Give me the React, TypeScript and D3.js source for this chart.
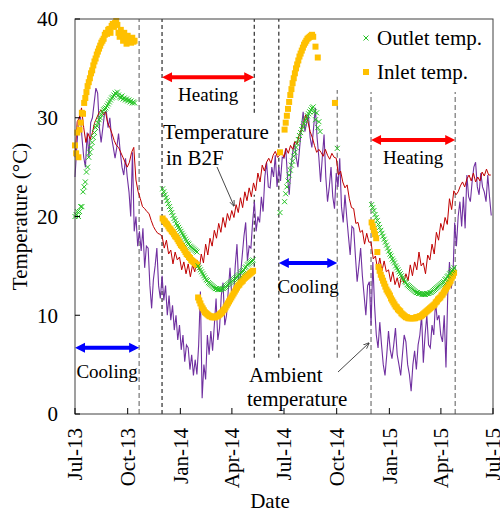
import React from "react";
import * as d3 from "d3";

// daily-ish readings
const ambientStart = new Date(Date.UTC(2013, 6, 1));
const ambientStepDays = 730 / 240;
const ambientTemp = [
  24, 27, 29.5, 30.5, 28, 26, 25, 28.5, 26, 29.5,
  30, 31.5, 33, 32.5, 29, 27.5, 29, 30.5, 30.6, 29,
  30, 28, 27, 25.9, 27, 28.4, 26.5, 25, 24.2, 25.9,
  24, 22.5, 20, 26.5, 18.5, 20, 17, 18.5, 16.5, 18.8,
  14.8, 17, 16.8, 13, 10.7, 13.6, 15, 16.8, 13, 11.7,
  14, 11.5, 13, 10, 12, 9.5, 11, 8.5, 10, 7.5,
  9, 6.5, 8, 5.3, 7, 6.7, 4.5, 6, 3.9, 5.5,
  4, 7, 12.4, 1.6, 5, 3.5, 8, 6, 8.4, 6.4,
  9, 11.7, 7.5, 8.7, 12, 13.3, 9, 10, 12.5, 14.8,
  12, 11.7, 15, 17.2, 13, 14, 16, 18, 19.4, 15.5,
  17, 16.8, 19.5, 21.5, 18.5, 20, 19.4, 22, 20.5, 24,
  25.5, 23, 22.9, 25, 24, 26.2, 23, 25, 23.6, 26,
  25.9, 26.9, 24, 22.2, 25, 26.5, 27.5, 26, 25, 27,
  29, 30.6, 28.6, 29.5, 30.3, 28, 27, 29, 31, 28,
  26, 23.5, 26, 28.3, 24, 21.5, 23, 25, 22, 20.8,
  24.4, 23, 25.9, 21, 19.4, 22.2, 20, 18, 16.1, 19,
  18.8, 16, 13.4, 15, 16.8, 14, 12, 10, 13, 13.4,
  9, 15.4, 11, 8, 6.7, 9.3, 7, 5, 3.9, 6,
  8.4, 6.5, 5.6, 7, 8.7, 6, 5, 3.9, 6, 8,
  7.3, 5, 4, 2.3, 5, 6.4, 4.5, 7, 8, 10,
  5.2, 8, 10, 7, 6.7, 9, 8, 11.4, 9.5, 10,
  8, 7.3, 10, 4.7, 12, 15.4, 12.7, 14, 19.4, 17,
  20, 21.5, 19, 22, 18.8, 24.2, 22, 21.5, 23.5, 25,
  25.5, 23, 22.2, 24.4, 23, 22.5, 21.5, 24.2, 22, 20.1,
];

const b2fStepDays = 730 / 192;
const b2fTemp = [
  26, 29.6, 30, 31, 29, 27.5, 28.4, 27.8,
  28.5, 29.5, 30, 30.5, 30.8, 30.3, 30.6, 29.5,
  29, 28.4, 27.7, 27.2, 27, 26.5, 26, 25.5,
  25, 25.5, 26.5, 27, 23.7, 22.5, 21.8, 21,
  20.8, 20.5, 20.3, 19.6, 19, 18.6, 18.3, 18.2,
  18, 16.8, 17.6, 16.2, 16.6, 15.2, 16.4, 15.6,
  15.9, 14.6, 15.4, 14.2, 15.2, 13.9, 15.1, 14.4,
  15.6, 14.6, 16.2, 15.3, 17.2, 16.1, 17.8, 17,
  18.6, 17.8, 19.3, 18.4, 19.9, 18.9, 20.3, 19.6,
  20.6, 19.9, 21.2, 20.4, 21.9, 20.9, 22.5, 21.6,
  22.9, 22, 23.4, 22.6, 24.4, 23.5, 25.2, 24.6,
  25.5, 25.9, 25.4, 26.2, 26.6, 26, 26.2, 26.5,
  26, 26.9, 26.4, 27.2, 26.8, 27.6, 27.3, 28.3,
  28.8, 29.5, 30.3, 29.6, 28.6, 28, 27.2, 26.5,
  26.8, 26.5, 26.1, 26.8, 26.2, 25.8, 26.4, 26,
  25.9, 24.2, 24.6, 23.5, 22.9, 23.2, 21.8, 20.9,
  20.8, 19.3, 19.4, 18.4, 18.6, 17.2, 18.3, 17.4,
  17.4, 15.7, 16, 14.6, 15.8, 14.5, 15.5, 14.4,
  14.6, 13.4, 14.4, 13.1, 13.8, 12.8, 14, 13.3,
  14.2, 13.5, 15.1, 14, 15.4, 14.6, 16.4, 15,
  15.3, 14.2, 16.1, 15.6, 17.2, 16.2, 18.4, 17.6,
  19.3, 18.6, 19.9, 19.2, 21.8, 20.7, 22.6, 22.2,
  22.5, 23.1, 23.5, 23, 23.8, 24.2, 23.6, 24.4,
  23.5, 24, 23.6, 24.5, 24.1, 24.8, 24.2, 24.2,
];

// heat pump water temps, every 2 days, null = no reading
const pumpStepDays = 2;

const summer13Start = new Date(Date.UTC(2013, 6, 1));
const outletSummer13 = [
  20, 20.2, 20.5, 20, 20.5, 21, 21, 22.5, 23, 23.5,
  24.5, 25, 26, 26.5, 27, 27.5, 28, 28.5, 29, 29.2,
  29.5, 29.8, 30, 30.3, 30.6, 30.8, 30.9, 31, 31.2, 31.4,
  31.6, 31.8, 32, 32.1, 32.3, 32.5, 32.4, 32.6, 32.3, 32.1,
  32, 32.2, 31.9, 32, 31.8, 31.9, 31.7, 31.8, 31.6, 31.7,
  31.5, 31.6, 31.5,
];
const inletSummer13 = [
  27.2, 26.4, 28.5, 26, 28.8, 29.5, 30.5, 30.4, 31.5, 32,
  32.6, 33.2, 33.6, 34, 34.5, 34.8, 35.3, 35.7, 36, 36.4,
  36.7, 37, 37.3, 37.6, 37.8, 38, 38.4, 38.6, 38.5, 38.9,
  39, 38.6, 39.3, 39.5, 39.2, 39.6, 39.8, 39.4, 38.6, 38.2,
  38.9, 38.4, 37.8, 38.6, 38.2, 37.5, 38.3, 37.9, 38, 37.6,
  38.1, 37.7, 37.8,
];

const winter1314Start = new Date(Date.UTC(2013, 11, 1));
const outletWinter1314 = [
  22.8, 22.5, 22.2, 21.9, 21.6, 21.3, 21, 20.7, 20.4, 20.1,
  19.8, 19.6, 19.3, 19.1, 18.9, 18.7, 18.5, 18.3, 18.1, 17.9,
  17.7, 17.5, 17.3, 17.2, 17, 16.9, 16.8, 16.7, 16.6, 16.5,
  16.4, 15, 14.8, 14.6, 14.4, 14.2, 14, 13.8, 13.6, 13.5,
  13.3, 13.2, 13.1, 13, 12.9, 12.8, 12.7, 12.7, 12.6, 12.6,
  12.6, 12.6, 12.7, 12.7, 12.8, 12.9, 13, 13.1, 13.2, 13.3,
  13.4, 13.5, 13.6, 13.7, 13.8, 13.9, 14, 14.1, 14.3, 14.4,
  14.5, 14.6, 14.8, 14.9, 15.1, 15.2, 15.3, 15.4, 15.5, 15.6,
];
const inletWinter1314 = [
  19.8, 19.6, 19.5, 19.3, 19.2, 19, 18.8, 18.7, 18.5, 18.4,
  18.2, 18, 17.9, 17.7, 17.5, 17.3, 17.1, 17, 16.8, 16.6,
  16.4, 16.2, 16.1, 15.9, 15.8, 15.6, 15.5, 15.4, 15.3, 15.2,
  15.1, 11.8, 11.5, 11.2, 10.9, 10.7, 10.5, 10.3, 10.2, 10.1,
  10, 9.9, 9.9, 9.8, 9.8, 9.8, 9.8, 9.9, 9.9, 10,
  10.1, 10.2, 10.3, 10.5, 10.6, 10.8, 11, 11.2, 11.4, 11.6,
  11.8, 12, 12.2, 12.4, 12.6, 12.8, 13, 13.1, 13.3, 13.4,
  13.5, 13.7, 13.8, 13.9, 14, 14.1, 14.2, 14.3, 14.4, 14.5,
];

const summer14Start = new Date(Date.UTC(2014, 5, 24));
const outletSummer14 = [
  20.4, null, null, null, 21.5, 22.3, 23, 23.6, 24.2, 24.7,
  25.2, 25.6, 26.1, 26.5, 27, 27.4, 27.8, 28.2, 28.5, 28.8,
  29.1, 29.4, 29.7, 29.9, 30.2, 30.4, 30.6, 30.8, 31, 31.1,
  30.6, 29.8, 30.5, 29, 29.6, 28.6, null, null, null, null,
  null, null, null, null, null, null, null, null, null, null,
  26.9,
];
const inletSummer14 = [
  26.5, null, null, null, 28.8, 29.5, 30.2, 30.9, 31.6, 32.3,
  32.9, 33.5, 34, 34.5, 35, 35.4, 35.8, 36.2, 36.5, 36.8,
  37.1, 37.4, 37.6, 37.8, 38, 38.1, 38.2, 38.3, 38.4, 38.2,
  null, 37.2, null, 36.1, null, null, null, null, null, null,
  null, null, null, null, null, null, null, null, 31.5,
];

const winter1415Start = new Date(Date.UTC(2014, 11, 1));
const outletWinter1415 = [
  21.2, 20.9, 20.6, 20.2, 19.9, 19.6, 19.2, 18.9, 18.6, 18.3,
  18, 17.7, 17.4, 17.1, 16.8, 16.5, 16.2, 16, 15.7, 15.5,
  15.3, 15, 14.8, 14.6, 14.4, 14.2, 14, 13.8, 13.6, 13.4,
  13.3, 13.1, 13, 12.9, 12.8, 12.7, 12.6, 12.5, 12.4, 12.3,
  12.3, 12.2, 12.2, 12.2, 12.1, 12.1, 12.1, 12.1, 12.2, 12.2,
  12.2, 12.3, 12.3, 12.4, 12.5, 12.6, 12.7, 12.8, 12.9, 13,
  13.1, 13.2, 13.3, 13.4, 13.6, 13.7, 13.9, 14, 14.2, 14.3,
  14.5, 14.6, 14.8,
];
const inletWinter1415 = [
  19.4, 19, 18.6, 18.2, 17.8, 16.4, 14.9, 14.5, 14.1, 13.8,
  13.5, 13.2, 12.9, 12.6, 12.4, 12.2, 12, 11.7, 11.5, 11.3,
  11.1, 10.9, 10.8, 10.6, 10.5, 10.4, 10.2, 10.1, 10, 9.9,
  9.8, 9.8, 9.7, 9.7, 9.7, 9.7, 9.7, 9.7, 9.7, 9.8,
  9.8, 9.8, 9.9, 9.9, 10, 10.1, 10.2, 10.3, 10.4, 10.5,
  10.6, 10.7, 10.8, 10.9, 11, 11.1, 11.3, 11.4, 11.6, 11.7,
  11.8, 12, 12.1, 12.3, 12.5, 12.7, 12.9, 13.1, 13.3, 13.5,
  13.8, 14, 14.3,
];

// operating period boundaries (date, temp range of the dashed line)
const boundDates = [
  new Date(Date.UTC(2013, 9, 21)),
  new Date(Date.UTC(2013, 10, 30)),
  new Date(Date.UTC(2014, 4, 10)),
  new Date(Date.UTC(2014, 4, 10)),
  new Date(Date.UTC(2014, 5, 22)),
  new Date(Date.UTC(2014, 9, 2)),
  new Date(Date.UTC(2014, 10, 30)),
  new Date(Date.UTC(2015, 3, 26)),
];
const boundFrom = [0, 0, 30.5, 5.7, 5.7, 5.7, 0, 0];
const boundTo = [40, 40, 40, 22.2, 40, 32.8, 32.6, 32.6];
const boundGray = [true, false, false, false, false, true, true, true];

const modeLabels = ["Cooling", "Heating", "Cooling", "Heating"];
const modeStart = [boundDates[0], boundDates[1], boundDates[4], boundDates[6]];
const modeEnd = [boundDates[0], boundDates[2], boundDates[5], boundDates[7]];
const modeLevel = [6.7, 34.1, 15.3, 27.75];

const yTicks = [0, 10, 20, 30, 40];

const DAY = 86400000;
type Pt = { date: Date; value: number };
function toPoints(start: Date, step: number, vals: (number | null)[]): Pt[] {
  const out: Pt[] = [];
  vals.forEach((v, i) => {
    if (v != null) out.push({ date: new Date(start.getTime() + i * step * DAY), value: v });
  });
  return out;
}

const FONT = "'Times New Roman', 'Liberation Serif', serif";

function dblArrow(x1: number, x2: number, yy: number) {
  const hl = 10, hh = 5, sw = 2;
  return `M${x1},${yy}L${x1 + hl},${yy - hh}L${x1 + hl},${yy - sw}L${x2 - hl},${yy - sw}L${x2 - hl},${yy - hh}L${x2},${yy}L${x2 - hl},${yy + hh}L${x2 - hl},${yy + sw}L${x1 + hl},${yy + sw}L${x1 + hl},${yy + hh}Z`;
}

export default function App() {
  const width = 500;
  const height = 514;
  const left = 75, right = 493, top = 19, bottom = 414;

  const x = d3.scaleUtc()
    .domain([new Date(Date.UTC(2013, 6, 1)), new Date(Date.UTC(2015, 6, 1))])
    .range([left, right]);
  const y = d3.scaleLinear().domain([0, 40]).range([bottom, top]);

  const line = d3.line<Pt>().x(d => x(d.date)).y(d => y(d.value));

  const ambient = toPoints(ambientStart, ambientStepDays, ambientTemp);
  const b2f = toPoints(ambientStart, b2fStepDays, b2fTemp);

  const outlet = [
    ...toPoints(summer13Start, pumpStepDays, outletSummer13),
    ...toPoints(winter1314Start, pumpStepDays, outletWinter1314),
    ...toPoints(summer14Start, pumpStepDays, outletSummer14),
    ...toPoints(winter1415Start, pumpStepDays, outletWinter1415),
  ];
  const inlet = [
    ...toPoints(summer13Start, pumpStepDays, inletSummer13),
    ...toPoints(winter1314Start, pumpStepDays, inletWinter1314),
    ...toPoints(summer14Start, pumpStepDays, inletSummer14),
    ...toPoints(winter1415Start, pumpStepDays, inletWinter1415),
  ];

  const xTicks = x.ticks(d3.utcMonth.every(3)!);
  const fmt = d3.utcFormat("%b-%y");

  const cross = (cx: number, cy: number, r = 2.5) =>
    `M${cx - r},${cy - r}L${cx + r},${cy + r}M${cx - r},${cy + r}L${cx + r},${cy - r}`;

  return (
    <svg width={width} height={height} style={{ position: "absolute", left: 0, top: 0 }} fontFamily={FONT}>
      <defs>
        <marker id="ah" viewBox="0 0 10 10" refX="9" refY="5" markerWidth="7" markerHeight="7" orient="auto">
          <path d="M0,1L10,5L0,9" fill="none" stroke="#333" strokeWidth={1.3} />
        </marker>
      </defs>
      <rect width={width} height={height} fill="#fff" />

      {/* period boundaries */}
      {boundDates.map((d, i) => (
        <line key={"b" + i} x1={x(d)} x2={x(d)} y1={y(boundFrom[i])} y2={y(boundTo[i])}
          stroke={boundGray[i] ? "#7f7f7f" : "#000"} strokeWidth={boundGray[i] ? 1.3 : 1}
          strokeDasharray={boundGray[i] ? "5,3" : "4,3"} />
      ))}

      <path d={line(ambient) || ""} fill="none" stroke="#7030A0" strokeWidth={1.1} />
      <path d={line(b2f) || ""} fill="none" stroke="#C00000" strokeWidth={1} />

      {inlet.map((d, i) => (
        <rect key={"in" + i} x={x(d.date) - 3} y={y(d.value) - 3} width={6} height={6} fill="#FFC000" />
      ))}
      <path d={outlet.map(d => cross(x(d.date), y(d.value))).join("")} stroke="#22C322" strokeWidth={1} fill="none" />

      {/* operating modes */}
      {modeLabels.map((m, i) => {
        const x1 = x(modeStart[i] === modeEnd[i] ? x.domain()[0] : modeStart[i]);
        const x2 = x(modeEnd[i]);
        const yy = y(modeLevel[i]);
        const heat = m === "Heating";
        return (
          <g key={"m" + i}>
            <path d={dblArrow(x1, x2, yy)} fill={heat ? "#FF0000" : "#0000FF"} />
            <text x={(x1 + x2) / 2} y={yy + (heat ? 24 : 30)} textAnchor="middle" fontSize={19}>{m}</text>
          </g>
        );
      })}

      {/* annotations */}
      <text x={163} y={139} fontSize={21}>Temperature</text>
      <text x={166} y={165} fontSize={21}>in B2F</text>
      <line x1={217} y1={167} x2={234} y2={206} stroke="#333" strokeWidth={0.9} markerEnd="url(#ah)" />
      <text x={249} y={382} fontSize={21}>Ambient</text>
      <text x={247} y={406} fontSize={21}>temperature</text>
      <line x1={338} y1={372} x2={369} y2={343} stroke="#333" strokeWidth={0.9} markerEnd="url(#ah)" />

      {/* legend */}
      <path d={cross(366, 38)} stroke="#22C322" strokeWidth={1} />
      <text x={377} y={45} fontSize={21}>Outlet temp.</text>
      <rect x={363} y={69} width={6} height={6} fill="#FFC000" />
      <text x={377} y={79} fontSize={21}>Inlet temp.</text>

      {/* frame and axes */}
      <rect x={left} y={top} width={right - left} height={bottom - top} fill="none" stroke="#404040" strokeWidth={1} />
      {yTicks.map(t => (
        <g key={"y" + t}>
          <line x1={left} x2={left + 5} y1={y(t)} y2={y(t)} stroke="#000" />
          <text x={58} y={y(t)} dy="0.35em" textAnchor="end" fontSize={21}>{t}</text>
        </g>
      ))}
      {xTicks.map((t, i) => (
        <g key={"x" + i}>
          <line x1={x(t)} x2={x(t)} y1={bottom} y2={bottom - 6} stroke="#000" />
          <text transform={`translate(${x(t)},428) rotate(-90)`} dy="0.35em" textAnchor="end" fontSize={21}>{fmt(t)}</text>
        </g>
      ))}
      <text x={270} y={508} textAnchor="middle" fontSize={21}>Date</text>
      <text transform={`translate(27,${(top + bottom) / 2}) rotate(-90)`} textAnchor="middle" fontSize={21}>Temperature (°C)</text>
    </svg>
  );
}
